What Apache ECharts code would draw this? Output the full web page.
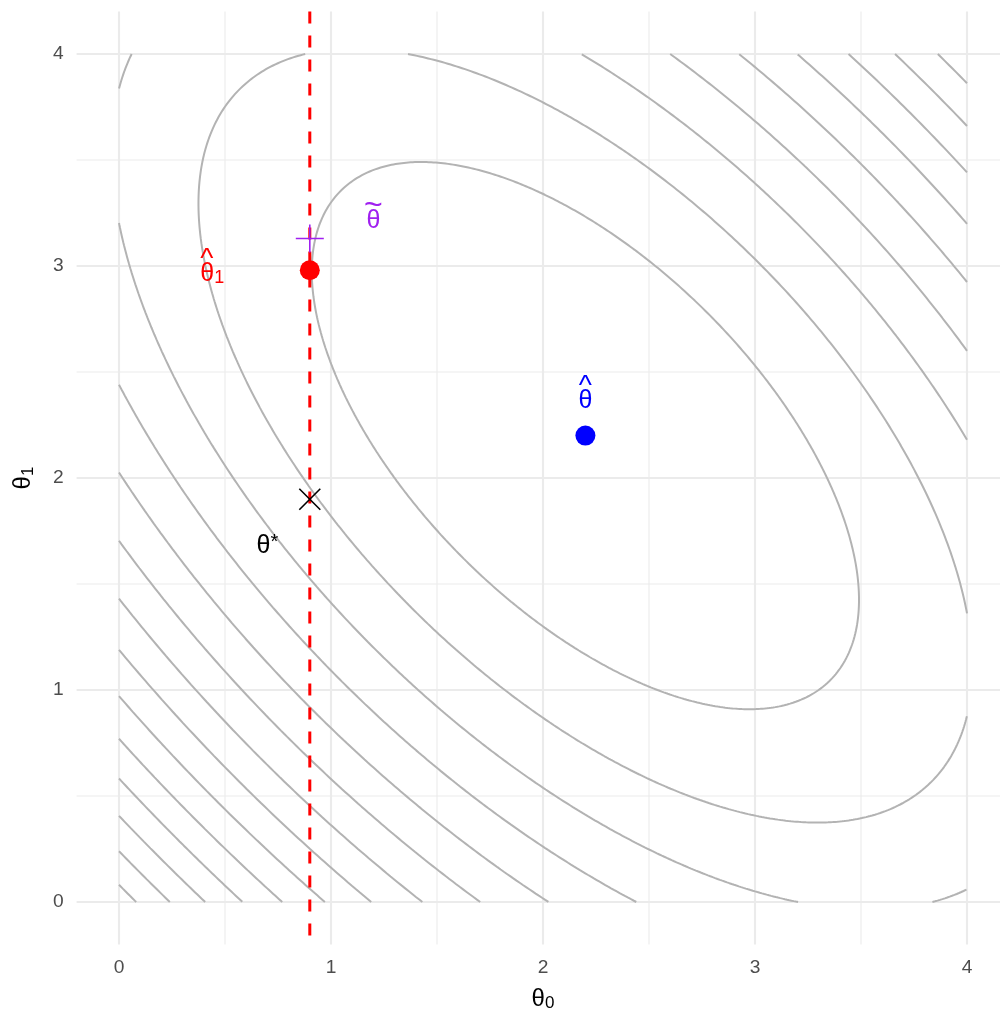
<!DOCTYPE html>
<html>
<head>
<meta charset="utf-8">
<script src="https://cdn.jsdelivr.net/npm/echarts@6/dist/echarts.min.js"></script>
<style>
  html, body { margin: 0; padding: 0; background: #ffffff; }
  #chart { width: 1000px; height: 1012px; }
</style>
</head>
<body>
<div id="chart"></div>
<script>
// Quadratic loss surface centred on the unrestricted estimate θ̂
const thetaHat = [2.2, 2.2];
const curvature = [[1, 0.6], [0.6, 1]];
const contourLevels = [1.066, 2.132, 3.198, 4.264, 5.33, 6.396, 7.462,
                       8.528, 9.594, 10.66, 11.726, 12.792, 13.858, 14.924];
const surfaceRange = [0, 4];          // square over which the surface is drawn

// Restricted fit: θ0 held fixed
const theta0Fixed = 0.9;
const thetaHat1 = [0.9, 2.98];
const thetaTilde = [0.9, 3.13];
const thetaStar = [0.9, 1.9];

// Text anchors for the annotations
const labelHat1 = [0.44, 2.97];
const labelTilde = [1.2, 3.22];
const labelHat = [2.2, 2.37];
const labelStar = [0.7, 1.68];

// Axes
const axisLimits = [-0.2, 4.2];
const majorBreaks = [0, 1, 2, 3, 4];
const minorBreaks = [0.5, 1.5, 2.5, 3.5];

const FONT = 'Liberation Sans';
const GRID_COLOUR = '#EBEBEB';
const CONTOUR_COLOUR = '#B3B3B3';

// Points on the level set {θ : (θ-θ̂)' A (θ-θ̂) = level}
function levelSet(level, n) {
  const a = curvature[0][0], b = curvature[0][1], c = curvature[1][1];
  const mid = (a + c) / 2, half = Math.sqrt(((a - c) / 2) ** 2 + b * b);
  const l1 = mid + half, l2 = mid - half;
  const ang = 0.5 * Math.atan2(2 * b, a - c);
  const r1 = Math.sqrt(level / l1), r2 = Math.sqrt(level / l2);
  const ca = Math.cos(ang), sa = Math.sin(ang);
  const pts = [];
  for (let i = 0; i < n; i++) {
    const t = 2 * Math.PI * i / n;
    const u = r1 * Math.cos(t), v = r2 * Math.sin(t);
    pts.push([thetaHat[0] + u * ca - v * sa, thetaHat[1] + u * sa + v * ca]);
  }
  return pts;
}

// Split a closed curve into the pieces lying inside the drawing square
function clipToSquare(pts, lo, hi) {
  const inside = p => p[0] >= lo && p[0] <= hi && p[1] >= lo && p[1] <= hi;
  const n = pts.length;
  const start = pts.findIndex(p => !inside(p));
  if (start < 0) return [pts.concat([pts[0]])];
  const exitPoint = (p, q) => {
    let s = 1;
    for (let k = 0; k < 2; k++) {
      if (q[k] > hi) s = Math.min(s, (hi - p[k]) / (q[k] - p[k]));
      if (q[k] < lo) s = Math.min(s, (lo - p[k]) / (q[k] - p[k]));
    }
    return [p[0] + s * (q[0] - p[0]), p[1] + s * (q[1] - p[1])];
  };
  const runs = [];
  let cur = null;
  for (let i = 1; i <= n; i++) {
    const prev = pts[(start + i - 1) % n], p = pts[(start + i) % n];
    const pIn = inside(p), prevIn = inside(prev);
    if (pIn && !prevIn) cur = [exitPoint(p, prev), p];
    else if (pIn && prevIn) cur.push(p);
    else if (!pIn && prevIn) { cur.push(exitPoint(prev, p)); runs.push(cur); cur = null; }
  }
  return runs;
}

const series = [];

// Panel grid
function gridLine(v, width) {
  series.push({ type: 'line', silent: true, symbol: 'none', z: 0, animation: false,
    data: [[v, axisLimits[0]], [v, axisLimits[1]]], lineStyle: { color: GRID_COLOUR, width } });
  series.push({ type: 'line', silent: true, symbol: 'none', z: 0, animation: false,
    data: [[axisLimits[0], v], [axisLimits[1], v]], lineStyle: { color: GRID_COLOUR, width } });
}
minorBreaks.forEach(v => gridLine(v, 1.07));
majorBreaks.forEach(v => gridLine(v, 2.13));

// Contours
contourLevels.forEach(level => {
  clipToSquare(levelSet(level, 2400), surfaceRange[0], surfaceRange[1]).forEach(run => {
    series.push({ type: 'line', silent: true, symbol: 'none', z: 2, animation: false,
      data: run, lineStyle: { color: CONTOUR_COLOUR, width: 2 } });
  });
});

// Vertical line at the restricted θ0
series.push({ type: 'line', silent: true, symbol: 'none', z: 3, animation: false,
  data: [[theta0Fixed, axisLimits[1]], [theta0Fixed, axisLimits[0]]],
  lineStyle: { color: '#FF0000', width: 3, type: [12, 12] } });

// Points
series.push({ type: 'scatter', silent: true, z: 5, animation: false,
  data: [thetaHat1], symbol: 'circle', symbolSize: 20, itemStyle: { color: '#FF0000', opacity: 1 } });
series.push({ type: 'scatter', silent: true, z: 5, animation: false,
  data: [thetaHat], symbol: 'circle', symbolSize: 20, itemStyle: { color: '#0000FF', opacity: 1 } });
series.push({ type: 'scatter', silent: true, z: 6, animation: false,
  data: [thetaStar], symbol: 'path://M0,0L10,10M10,0L0,10', symbolSize: 21,
  itemStyle: { color: 'rgba(0,0,0,0)', borderColor: '#000000', borderWidth: 1.6, opacity: 1 } });
series.push({ type: 'scatter', silent: true, z: 6, animation: false,
  data: [thetaTilde], symbol: 'path://M5,0L5,10M0,5L10,5', symbolSize: 28,
  itemStyle: { color: 'rgba(0,0,0,0)', borderColor: '#A020F0', borderWidth: 1.6, opacity: 1 } });

// Annotations
function annotation(pos, text, colour, rich) {
  series.push({ type: 'scatter', silent: true, z: 7, animation: false,
    data: [pos], symbolSize: 0, itemStyle: { opacity: 1 },
    label: { show: true, position: 'inside', formatter: text, color: colour,
      fontFamily: FONT, opacity: 1, rich } });
}
const theta = { fontSize: 25, lineHeight: 26, fontFamily: FONT };
annotation(labelHat1, '{h|^}\n{t|θ}{s|1}', '#FF0000', {
  h: { fontSize: 28, lineHeight: 4, padding: [0, 11, 0, 0], fontFamily: FONT, color: '#FF0000' },
  t: Object.assign({ color: '#FF0000' }, theta),
  s: { fontSize: 18, lineHeight: 18, verticalAlign: 'bottom', padding: [14, 0, 0, 0], fontFamily: FONT, color: '#FF0000' }
});
annotation(labelHat, '{h|^}\n{t|θ}', '#0000FF', {
  h: { fontSize: 28, lineHeight: 4, fontFamily: FONT, color: '#0000FF' },
  t: Object.assign({ color: '#0000FF' }, theta)
});
annotation(labelTilde, '{h|~}\n{t|θ}', '#A020F0', {
  h: { fontSize: 32, lineHeight: 4, fontFamily: FONT, color: '#A020F0' },
  t: Object.assign({ color: '#A020F0' }, theta)
});
annotation(labelStar, '{t|θ}{s|*}', '#000000', {
  t: Object.assign({ color: '#000000' }, theta),
  s: { fontSize: 20, lineHeight: 20, verticalAlign: 'top', padding: [0, 0, 22, 0], fontFamily: FONT, color: '#000000' }
});

const tickLabel = {
  customValues: majorBreaks,
  formatter: v => (majorBreaks.indexOf(v) >= 0 ? String(v) : ''),
  color: '#4D4D4D', fontSize: 19.2, fontFamily: FONT
};
const titleRich = {
  t: { fontSize: 24, lineHeight: 26, fontFamily: FONT, color: '#000000' },
  s: { fontSize: 17, lineHeight: 17, verticalAlign: 'bottom', padding: [13, 0, 0, 0], fontFamily: FONT, color: '#000000' }
};

const chart = echarts.init(document.getElementById('chart'), null, { renderer: 'canvas' });
chart.setOption({
  backgroundColor: '#ffffff',
  animation: false,
  grid: { left: 76.6, top: 11.6, width: 932.8, height: 932.8, containLabel: false, outerBoundsMode: 'none' },
  xAxis: {
    type: 'value', min: axisLimits[0], max: axisLimits[1],
    axisLine: { show: false }, axisTick: { show: false }, splitLine: { show: false },
    axisLabel: Object.assign({ margin: 14 }, tickLabel),
    name: '{t|θ}{s|0}', nameLocation: 'middle', nameGap: 40,
    nameTextStyle: { rich: titleRich }
  },
  yAxis: {
    type: 'value', min: axisLimits[0], max: axisLimits[1],
    axisLine: { show: false }, axisTick: { show: false }, splitLine: { show: false },
    axisLabel: Object.assign({ margin: 13 }, tickLabel),
    name: '{t|θ}{s|1}', nameLocation: 'middle', nameGap: 40, nameRotate: 90,
    nameTextStyle: { rich: titleRich }
  },
  series
});
</script>
</body>
</html>
